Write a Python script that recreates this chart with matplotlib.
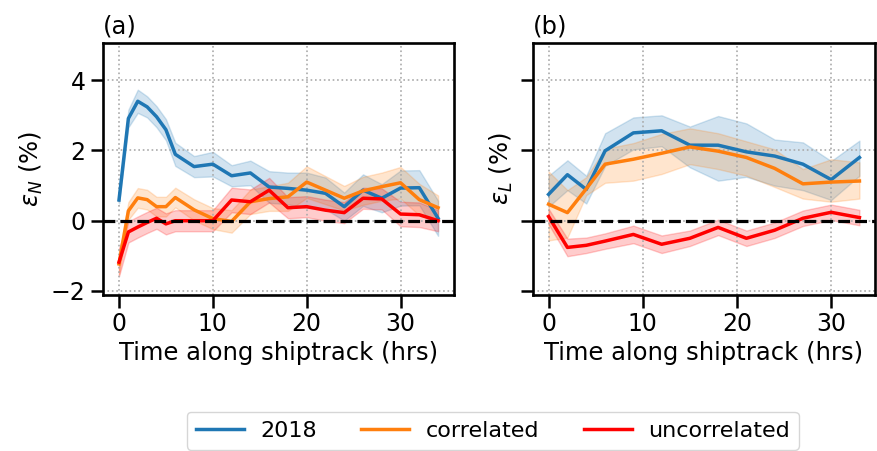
import numpy as np
import matplotlib
matplotlib.use('Agg')
import matplotlib.pyplot as plt

# panel (a): epsilon_N along the shiptrack
hrs_a = [0, 1, 2, 3, 4, 5, 6, 8, 10, 12, 14, 16, 18, 20, 22, 24, 26, 28, 30, 32, 34]
n_2018 = [0.59, 2.91, 3.40, 3.24, 2.96, 2.59, 1.89, 1.54, 1.61, 1.28, 1.36, 0.96, 0.92, 0.87, 0.78, 0.40, 0.87, 0.64, 0.93, 0.94, 0.07]
n_2018_err = [0.1, 0.25, 0.33, 0.3, 0.3, 0.3, 0.33, 0.3, 0.35, 0.3, 0.35, 0.45, 0.45, 0.5, 0.45, 0.4, 0.45, 0.4, 0.5, 0.5, 0.5]
n_corr = [-1.23, 0.28, 0.65, 0.60, 0.40, 0.40, 0.66, 0.31, 0.06, -0.02, 0.54, 0.63, 0.68, 1.10, 0.87, 0.64, 0.85, 0.97, 1.08, 0.60, 0.37]
n_corr_err = [0.3, 0.25, 0.28, 0.28, 0.28, 0.28, 0.28, 0.3, 0.3, 0.32, 0.35, 0.35, 0.4, 0.45, 0.4, 0.35, 0.4, 0.4, 0.45, 0.45, 0.35]
n_unc = [-1.18, -0.32, -0.18, -0.05, 0.07, -0.09, 0.0, 0.0, 0.0, 0.59, 0.54, 0.87, 0.37, 0.40, 0.30, 0.23, 0.64, 0.62, 0.19, 0.17, 0.0]
n_unc_err = [0.4, 0.3, 0.3, 0.3, 0.3, 0.3, 0.3, 0.3, 0.3, 0.35, 0.35, 0.35, 0.3, 0.3, 0.3, 0.3, 0.3, 0.3, 0.35, 0.35, 0.3]

# panel (b): epsilon_L along the shiptrack
hrs_b = [0, 2, 4, 6, 9, 12, 15, 18, 21, 24, 27, 30, 33]
l_2018 = [0.75, 1.31, 0.89, 1.99, 2.50, 2.56, 2.15, 2.15, 1.96, 1.84, 1.61, 1.17, 1.80]
l_2018_hi = [1.28, 1.72, 1.28, 2.49, 2.94, 3.00, 2.68, 2.98, 2.77, 2.31, 2.23, 1.70, 2.28]
l_2018_lo = [0.40, 0.87, 0.49, 1.56, 2.03, 2.12, 1.52, 1.14, 1.25, 1.00, 0.87, 0.59, 1.28]
l_corr = [0.47, 0.23, 0.91, 1.61, 1.75, 1.92, 2.10, 1.98, 1.80, 1.49, 1.05, 1.10, 1.13]
l_corr_hi = [1.40, 0.87, 1.24, 2.05, 2.21, 2.47, 2.63, 2.49, 2.26, 2.03, 1.47, 1.75, 1.66]
l_corr_lo = [-0.56, -0.48, 0.73, 1.08, 1.14, 1.33, 1.61, 1.47, 1.28, 0.96, 0.63, 0.54, 0.63]
l_unc = [0.12, -0.76, -0.70, -0.58, -0.39, -0.67, -0.50, -0.19, -0.50, -0.27, 0.07, 0.24, 0.09]
l_unc_err = [0.22, 0.25, 0.22, 0.22, 0.25, 0.25, 0.22, 0.22, 0.22, 0.22, 0.22, 0.22, 0.22]

labels = ['2018', 'correlated', 'uncorrelated']
colors = ['#1f77b4', '#ff7f0e', 'red']

plt.rcParams.update({
    'font.size': 17,
    'axes.linewidth': 1.9,
    'xtick.major.size': 9,
    'ytick.major.size': 9,
    'xtick.major.width': 1.8,
    'ytick.major.width': 1.8,
})

fig = plt.figure(figsize=(8.77, 4.51), dpi=100)
ax1 = fig.add_axes([0.1175, 0.347, 0.4002, 0.557])
ax2 = fig.add_axes([0.6078, 0.347, 0.3899, 0.557], sharey=ax1)


def band(ax, x, y, lo, hi, c, lab):
    ax.fill_between(x, lo, hi, color=c, alpha=0.2)
    ax.plot(x, y, color=c, lw=2.5, label=lab)


a_series = [(n_2018, n_2018_err), (n_corr, n_corr_err), (n_unc, n_unc_err)]
for (y, e), c, lab in zip(a_series, colors, labels):
    y = np.array(y)
    e = np.array(e)
    band(ax1, hrs_a, y, y - e, y + e, c, lab)

b_series = [(l_2018, l_2018_lo, l_2018_hi), (l_corr, l_corr_lo, l_corr_hi)]
for (y, lo, hi), c, lab in zip(b_series, colors[:2], labels[:2]):
    band(ax2, hrs_b, y, lo, hi, c, lab)
lu = np.array(l_unc)
le = np.array(l_unc_err)
band(ax2, hrs_b, lu, lu - le, lu + le, colors[2], labels[2])

for ax, title in [(ax1, '(a)'), (ax2, '(b)')]:
    ax.axhline(0, color='k', ls='--', lw=2.3, dashes=(3.7, 1.6))
    ax.grid(True, ls=':', color='#aaaaaa', lw=1.2)
    ax.set_title(title, loc='left', fontsize=17.5, pad=7)
    ax.set_xlabel('Time along shiptrack (hrs)', fontsize=17.5)
    ax.set_xticks([0, 10, 20, 30])
    ax.tick_params(labelsize=17)

ax1.set_ylim(-2.1, 5.05)
ax1.set_yticks([-2, 0, 2, 4])
ax1.set_ylabel(r'$\varepsilon_N$ (%)', fontsize=17.5)
ax2.set_ylabel(r'$\varepsilon_L$ (%)', fontsize=17.5)
ax2.tick_params(labelleft=False)

handles, labs = ax1.get_legend_handles_labels()
fig.legend(handles, labs, loc='upper center', bbox_to_anchor=(0.562, 0.111),
           ncol=3, fontsize=16, handlelength=2.15, handletextpad=0.75,
           columnspacing=2.0, frameon=True)

plt.savefig('out.png', dpi=100)
